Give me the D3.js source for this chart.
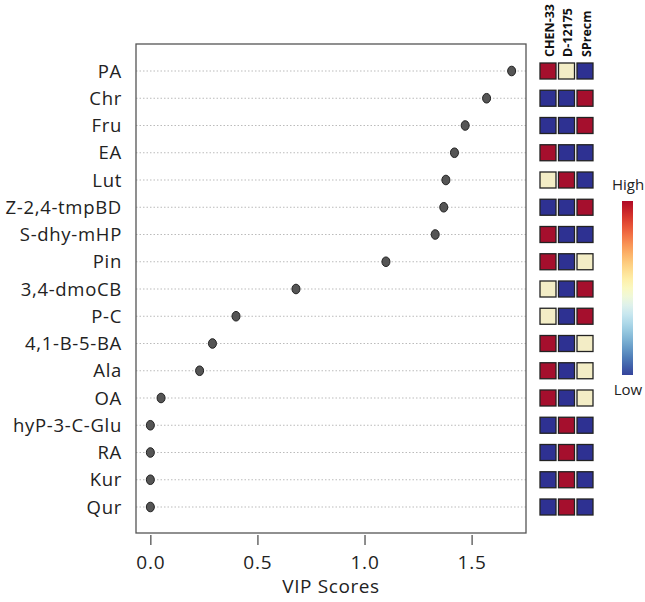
<!DOCTYPE html>
<html><head><meta charset="utf-8">
<script src="https://cdn.jsdelivr.net/npm/d3@7"></script>
<style>body{margin:0;background:#fff}text{font-family:"Open Sans",sans-serif}</style>
</head><body>
<svg id="chart" width="645" height="602"></svg>
<script>
const features = ["PA","Chr","Fru","EA","Lut","Z-2,4-tmpBD","S-dhy-mHP","Pin","3,4-dmoCB","P-C","4,1-B-5-BA","Ala","OA","hyP-3-C-Glu","RA","Kur","Qur"];
const vipScores = [1.687,1.57,1.47,1.42,1.38,1.37,1.33,1.10,0.68,0.40,0.29,0.23,0.05,0.0,0.0,0.0,0.0];
const groups = ["CHEN-33","D-12175","SPrecm"];
// relative level: 1 = high, 0 = middle, -1 = low
const CHEN33 = [1,-1,-1,1,0,-1,1,1,0,0,1,1,1,-1,-1,-1,-1];
const D12175 = [0,-1,-1,-1,1,-1,-1,-1,-1,-1,-1,-1,-1,1,1,1,1];
const SPrecm = [-1,1,1,-1,-1,1,-1,0,1,1,0,0,0,-1,-1,-1,-1];
const xTicks = [0,0.5,1.0,1.5];
const legendLabels = ["High","Low"];

const svg = d3.select("#chart");
const box = {l:136, r:526, t:44, b:533};
const x = d3.scaleLinear().domain([-0.067,1.754]).range([box.l, box.r]);
const y = d3.scalePoint().domain(features).range([71,507]);

svg.selectAll("line.guide").data(features).join("line")
  .attr("x1",box.l).attr("x2",box.r)
  .attr("y1",d=>y(d)).attr("y2",d=>y(d))
  .attr("stroke","#bbb").attr("stroke-width",1).attr("stroke-dasharray","1.5,2");

svg.append("rect").attr("x",box.l).attr("y",box.t).attr("width",box.r-box.l).attr("height",box.b-box.t)
  .attr("fill","none").attr("stroke","#555").attr("stroke-width",1.3);

svg.selectAll("text.ylab").data(features).join("text")
  .attr("x",122).attr("y",d=>y(d)).attr("dy","0.36em")
  .attr("text-anchor","end").attr("font-size",18.5).attr("letter-spacing","0.7px")
  .attr("fill","#222").text(d=>d);

svg.selectAll("ellipse.pt").data(features).join("ellipse")
  .attr("cx",(d,i)=>x(vipScores[i])).attr("cy",d=>y(d))
  .attr("rx",4).attr("ry",4.8)
  .attr("fill","#555").attr("stroke","#222").attr("stroke-width",1);

const xAxis = d3.axisBottom(x).tickValues(xTicks).tickFormat(d3.format(".1f")).tickSize(10).tickPadding(11);
const gx = svg.append("g").attr("transform",`translate(0,${box.b+2})`).call(xAxis);
gx.select(".domain").remove();
gx.selectAll(".tick line").attr("stroke","#444").attr("stroke-width",1.2);
gx.selectAll(".tick text").attr("font-size",19).attr("letter-spacing","0.8px").attr("fill","#222").attr("font-family","'Open Sans',sans-serif");
svg.append("text").attr("x",(box.l+box.r)/2).attr("y",593).attr("text-anchor","middle")
  .attr("font-size",19).attr("letter-spacing","0.6px").attr("fill","#222").text("VIP Scores");

const heat = [CHEN33, D12175, SPrecm];
const color = d3.scaleLinear().domain([-1,0,1]).range(["#2e3192","#f3edc6","#a50f2d"]);
const hx = d3.scalePoint().domain(groups).range([548,585]);
const cell = 16;
groups.forEach((g,gi)=>{
  svg.selectAll("rect.c"+gi).data(features).join("rect")
    .attr("x",hx(g)-cell/2).attr("y",d=>y(d)-cell/2).attr("width",cell).attr("height",cell)
    .attr("fill",(d,i)=>color(heat[gi][i])).attr("stroke","#222").attr("stroke-width",1.3);
});
svg.selectAll("text.grp").data(groups).join("text")
  .attr("transform",d=>`translate(${hx(d)+5.5},57) rotate(-90)`)
  .attr("font-size",12.5).attr("font-weight","bold").attr("fill","#111").text(d=>d);

const defs = svg.append("defs");
const grad = defs.append("linearGradient").attr("id","cbar").attr("x1",0).attr("x2",0).attr("y1",0).attr("y2",1);
d3.range(0,1.01,0.05).forEach(t=>{
  grad.append("stop").attr("offset",t).attr("stop-color",d3.interpolateRdYlBu(t*0.96+0.02));
});
svg.append("rect").attr("x",622).attr("y",201).attr("width",11).attr("height",174).attr("fill","url(#cbar)");
svg.append("text").attr("x",628).attr("y",190).attr("text-anchor","middle").attr("font-size",15).attr("fill","#222").attr("font-family","'Liberation Sans',Arial,sans-serif").text(legendLabels[0]);
svg.append("text").attr("x",628).attr("y",395).attr("text-anchor","middle").attr("font-size",15).attr("fill","#222").attr("font-family","'Liberation Sans',Arial,sans-serif").text(legendLabels[1]);
</script>
</body></html>
